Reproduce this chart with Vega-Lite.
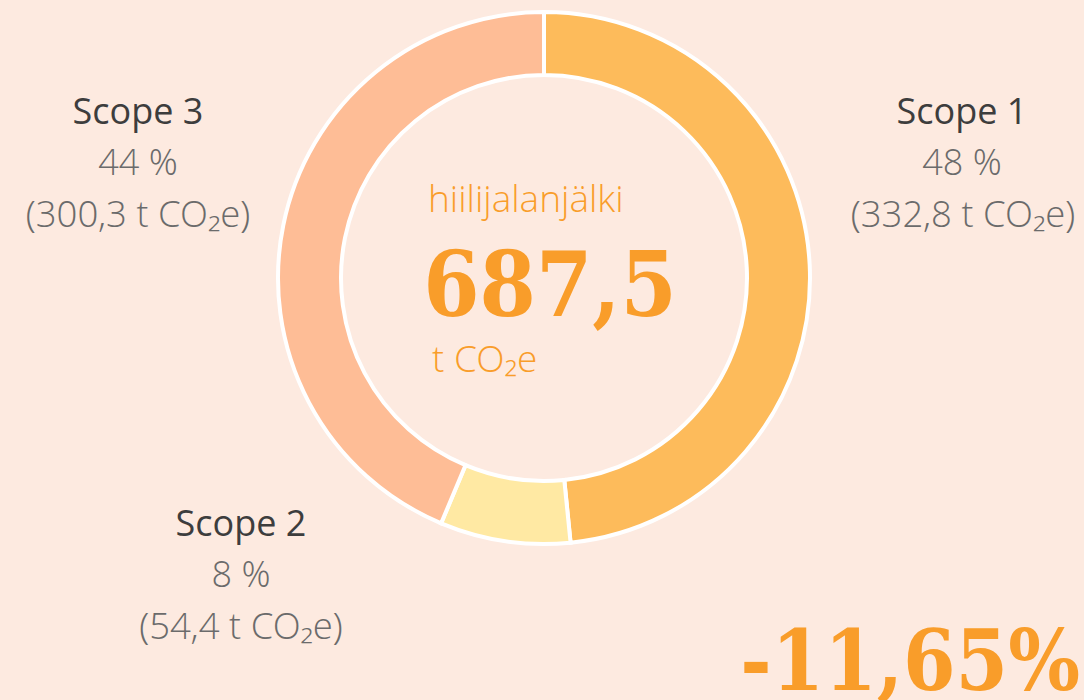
{
  "$schema": "https://vega.github.io/schema/vega-lite/v6.json",
  "width": 1084,
  "height": 556,
  "autosize": {"type": "none"},
  "padding": {"left": 2, "top": 0, "right": 0, "bottom": 144},
  "background": "#fdeae0",
  "config": {"view": {"stroke": null}},
  "data": {
    "values": [
      {"scope": "Scope 1", "value": 332.8, "pct": "48 %", "amount": "(332,8 t CO₂e)"},
      {"scope": "Scope 2", "value": 54.4, "pct": "8 %", "amount": "(54,4 t CO₂e)"},
      {"scope": "Scope 3", "value": 300.3, "pct": "44 %", "amount": "(300,3 t CO₂e)"}
    ]
  },
  "layer": [
    {
      "mark": {"type": "arc", "innerRadius": 203, "outerRadius": 266, "stroke": "white", "strokeWidth": 4},
      "encoding": {
        "theta": {"field": "value", "type": "quantitative", "stack": true},
        "order": {"field": "scope", "sort": "ascending"},
        "color": {
          "field": "scope",
          "type": "nominal",
          "scale": {"domain": ["Scope 1", "Scope 2", "Scope 3"], "range": ["#fdbb5b", "#ffe9a3", "#febd96"]},
          "legend": null
        }
      }
    },
    {
      "transform": [{"filter": "datum.scope == 'Scope 1'"}],
      "mark": {"type": "text", "x": 960, "y": 124, "align": "center", "baseline": "alphabetic", "font": "Open Sans", "fontSize": 36, "color": "#3d3d3d", "fontWeight": 400},
      "encoding": {"text": {"field": "scope"}}
    },
    {
      "transform": [{"filter": "datum.scope == 'Scope 1'"}],
      "mark": {"type": "text", "x": 960, "y": 175, "align": "center", "baseline": "alphabetic", "font": "Open Sans Light, Open Sans", "fontSize": 36, "color": "#6b6b6b", "fontWeight": 300},
      "encoding": {"text": {"field": "pct"}}
    },
    {
      "transform": [{"filter": "datum.scope == 'Scope 1'"}],
      "mark": {"type": "text", "x": 961, "y": 227, "align": "center", "baseline": "alphabetic", "font": "Open Sans Light, Open Sans", "fontSize": 36.5, "color": "#6b6b6b", "fontWeight": 300},
      "encoding": {"text": {"field": "amount"}}
    },
    {
      "transform": [{"filter": "datum.scope == 'Scope 3'"}],
      "mark": {"type": "text", "x": 136, "y": 124, "align": "center", "baseline": "alphabetic", "font": "Open Sans", "fontSize": 36, "color": "#3d3d3d", "fontWeight": 400},
      "encoding": {"text": {"field": "scope"}}
    },
    {
      "transform": [{"filter": "datum.scope == 'Scope 3'"}],
      "mark": {"type": "text", "x": 136, "y": 175, "align": "center", "baseline": "alphabetic", "font": "Open Sans Light, Open Sans", "fontSize": 36, "color": "#6b6b6b", "fontWeight": 300},
      "encoding": {"text": {"field": "pct"}}
    },
    {
      "transform": [{"filter": "datum.scope == 'Scope 3'"}],
      "mark": {"type": "text", "x": 136, "y": 227, "align": "center", "baseline": "alphabetic", "font": "Open Sans Light, Open Sans", "fontSize": 36.5, "color": "#6b6b6b", "fontWeight": 300},
      "encoding": {"text": {"field": "amount"}}
    },
    {
      "transform": [{"filter": "datum.scope == 'Scope 2'"}],
      "mark": {"type": "text", "x": 239, "y": 536, "align": "center", "baseline": "alphabetic", "font": "Open Sans", "fontSize": 36, "color": "#3d3d3d", "fontWeight": 400},
      "encoding": {"text": {"field": "scope"}}
    },
    {
      "transform": [{"filter": "datum.scope == 'Scope 2'"}],
      "mark": {"type": "text", "x": 239, "y": 587, "align": "center", "baseline": "alphabetic", "font": "Open Sans Light, Open Sans", "fontSize": 36, "color": "#6b6b6b", "fontWeight": 300},
      "encoding": {"text": {"field": "pct"}}
    },
    {
      "transform": [{"filter": "datum.scope == 'Scope 2'"}],
      "mark": {"type": "text", "x": 239, "y": 639, "align": "center", "baseline": "alphabetic", "font": "Open Sans Light, Open Sans", "fontSize": 36.5, "color": "#6b6b6b", "fontWeight": 300},
      "encoding": {"text": {"field": "amount"}}
    },
    {
      "data": {"values": [{"t": "hiilijalanjälki"}]},
      "mark": {"type": "text", "x": 426, "y": 212, "align": "left", "baseline": "alphabetic", "font": "Open Sans Light, Open Sans", "fontSize": 37, "fontWeight": 300, "color": "#f99d2a"},
      "encoding": {"text": {"field": "t"}}
    },
    {
      "data": {"values": [{"t": "687,5"}]},
      "mark": {"type": "text", "x": 548, "y": 316, "align": "center", "baseline": "alphabetic", "font": "DejaVu Serif Condensed, DejaVu Serif", "fontSize": 90, "fontWeight": "bold", "color": "#f99d2a"},
      "encoding": {"text": {"field": "t"}}
    },
    {
      "data": {"values": [{"t": "t CO₂e"}]},
      "mark": {"type": "text", "x": 430, "y": 372, "align": "left", "baseline": "alphabetic", "font": "Open Sans Light, Open Sans", "fontSize": 37, "fontWeight": 300, "color": "#f99d2a"},
      "encoding": {"text": {"field": "t"}}
    },
    {
      "data": {"values": [{"t": "-11,65%"}]},
      "mark": {"type": "text", "x": 1078, "y": 690, "align": "right", "baseline": "alphabetic", "font": "DejaVu Serif Condensed, DejaVu Serif", "fontSize": 84, "fontWeight": "bold", "color": "#f99d2a"},
      "encoding": {"text": {"field": "t"}}
    }
  ]
}
